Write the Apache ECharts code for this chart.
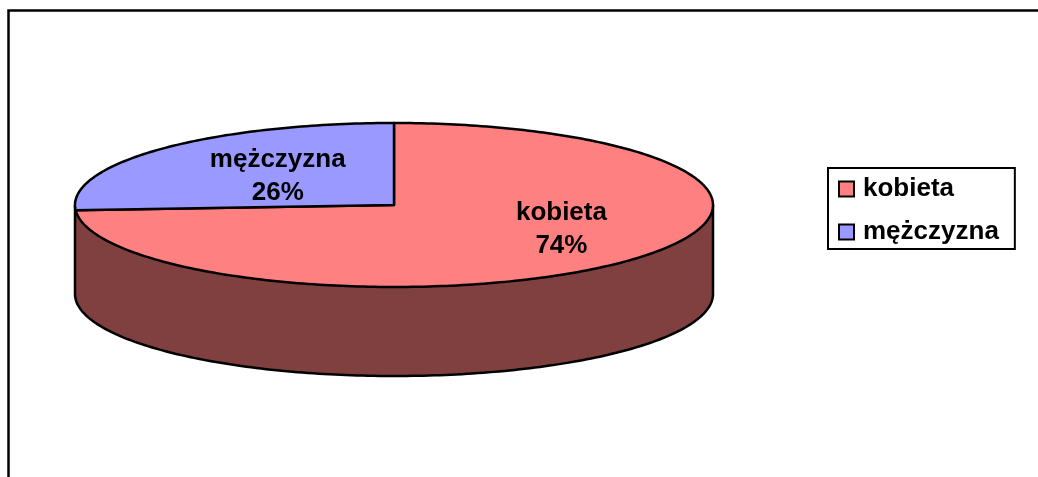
<!DOCTYPE html>
<html>
<head>
<meta charset="utf-8">
<script src="https://cdn.jsdelivr.net/npm/echarts@6/dist/echarts.min.js"></script>
<style>
  html, body { margin: 0; padding: 0; background: #fff; }
  #chart { width: 1038px; height: 477px; }
</style>
</head>
<body>
<div id="chart"></div>
<script>
const categories = ['kobieta', 'mężczyzna']
const shares = [74, 26]
const sliceColors = ['#FF8080', '#9999FF']

// ellipse layout of the 3d pie (pixels)
const CX = 394, CY = 205, RX = 319, RY = 82, DEPTH = 89
const FONT = 'bold 26px "Liberation Sans", Arial, sans-serif'
// label placement per slice: fraction of radius along mid angle, extra y shift
const labelRadius = [0.72, 0.5]
const labelShiftY = [-16, -1]

function pt(deg, dy) {
  const r = deg * Math.PI / 180
  return [CX + RX * Math.sin(r), CY - RY * Math.cos(r) + dy]
}

function arc(a, b, dy) {
  const pts = []
  const n = Math.max(2, Math.ceil(Math.abs(b - a)))
  for (let i = 0; i <= n; i++) pts.push(pt(a + (b - a) * i / n, dy))
  return pts
}

function darken(hex) {
  const h = hex.replace('#', '')
  const c = [0, 2, 4].map(i => Math.round(parseInt(h.substr(i, 2), 16) * 0.5))
  return `rgb(${c[0]},${c[1]},${c[2]})`
}

function renderSlice(idx) {
  return function (params, api) {
    const total = shares.reduce((s, v) => s + v, 0)
    const before = shares.slice(0, idx).reduce((s, v) => s + v, 0)
    const start = before / total * 360
    const end = start + api.value(0) / total * 360
    const color = sliceColors[idx]
    const children = []

    // front wall, only the part between 90 and 270 deg faces the viewer
    const a = Math.max(start, 90), b = Math.min(end, 270)
    if (b > a) {
      children.push({
        type: 'polygon', z2: 1,
        shape: { points: arc(a, b, 0).concat(arc(b, a, DEPTH)) },
        style: { fill: darken(color), stroke: null }
      })
      children.push({
        type: 'polyline', z2: 2,
        shape: { points: arc(a, b, DEPTH) },
        style: { stroke: '#000', lineWidth: 2.5, fill: null }
      })
      ;[a, b].forEach(t => {
        if (t === 90 || t === 270) {
          const p = pt(t, 0)
          children.push({
            type: 'line', z2: 2,
            shape: { x1: p[0], y1: p[1], x2: p[0], y2: p[1] + DEPTH },
            style: { stroke: '#000', lineWidth: 2.5 }
          })
        }
      })
    }

    // top face
    children.push({
      type: 'polygon', z2: 10,
      shape: { points: [[CX, CY]].concat(arc(start, end, 0)) },
      style: { fill: color, stroke: '#000', lineWidth: 2.5, lineJoin: 'round' }
    })

    // label
    const mid = (start + end) / 2
    const r = mid * Math.PI / 180
    const f = labelRadius[idx]
    const pct = Math.round(api.value(0) / total * 100)
    children.push({
      type: 'text', z2: 20,
      x: CX + RX * f * Math.sin(r),
      y: CY - RY * f * Math.cos(r) + labelShiftY[idx],
      style: {
        text: categories[idx] + '\n' + pct + '%',
        font: FONT, fill: '#000',
        align: 'center', verticalAlign: 'middle', lineHeight: 33
      }
    })

    return { type: 'group', children }
  }
}

const chart = echarts.init(document.getElementById('chart'))
chart.setOption({
  animation: false,
  backgroundColor: '#fff',
  legend: {
    data: categories,
    orient: 'vertical',
    left: 828,
    top: 168,
    padding: [8, 16, 4, 10],
    itemWidth: 15,
    itemHeight: 15,
    itemGap: 17,
    icon: 'rect',
    selectedMode: false,
    borderColor: '#000',
    borderWidth: 2,
    itemStyle: { borderColor: '#000', borderWidth: 2 },
    textStyle: {
      fontSize: 26, fontWeight: 'bold', color: '#000',
      fontFamily: '"Liberation Sans", Arial, sans-serif',
      lineHeight: 26, padding: [0, 0, 0, 4]
    }
  },
  graphic: [{
    type: 'rect',
    silent: true,
    shape: { x: 8.5, y: 10.5, width: 1200, height: 800 },
    style: { fill: null, stroke: '#000', lineWidth: 2.5 }
  }],
  series: categories.map((name, i) => ({
    type: 'custom',
    name,
    coordinateSystem: 'none',
    silent: true,
    itemStyle: { color: sliceColors[i] },
    renderItem: renderSlice(i),
    data: [shares[i]]
  }))
})
</script>
</body>
</html>
